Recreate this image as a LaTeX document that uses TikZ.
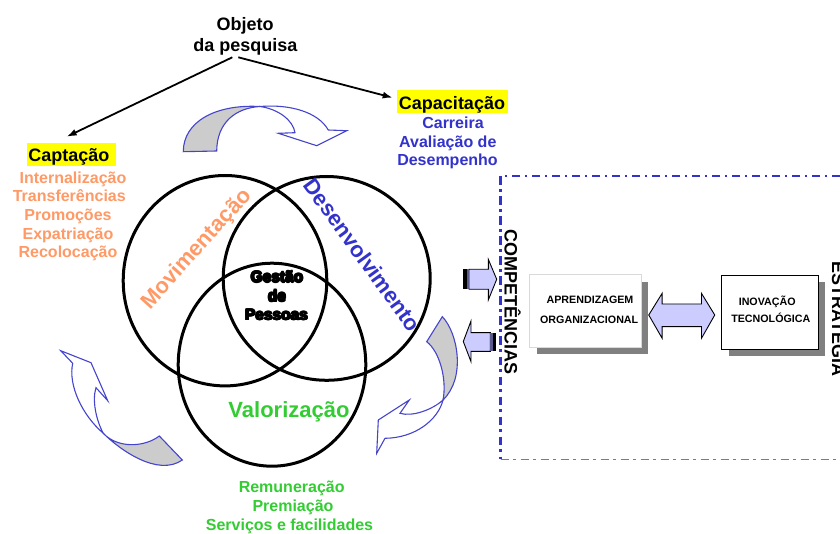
\documentclass[tikz,border=0pt]{standalone}
\usepackage{fontspec}
\setmainfont{Liberation Sans}
\usetikzlibrary{shapes.geometric,calc,arrows.meta}
\definecolor{orng}{RGB}{255,153,102}
\definecolor{blu}{RGB}{51,51,204}
\definecolor{arrblu}{RGB}{68,68,204}
\definecolor{grn}{RGB}{51,204,51}
\definecolor{yel}{RGB}{255,255,0}
\definecolor{lav}{RGB}{204,204,255}
\definecolor{gry}{RGB}{204,204,204}
\definecolor{shd}{RGB}{128,128,128}
\definecolor{stripe}{RGB}{90,90,140}
\newcommand\heavyword[1]{\leavevmode
  \rlap{\kern0.8pt #1}\rlap{\kern-0.8pt #1}%
  \rlap{\raisebox{0.8pt}{#1}}\rlap{\raisebox{-0.8pt}{#1}}%
  \rlap{\kern0.6pt\raisebox{0.6pt}{#1}}\rlap{\kern-0.6pt\raisebox{0.6pt}{#1}}%
  \rlap{\kern0.6pt\raisebox{-0.6pt}{#1}}\rlap{\kern-0.6pt\raisebox{-0.6pt}{#1}}#1}
\tikzset{
  txt/.style={inner sep=0pt, anchor=base, font=\bfseries\fontsize{16}{19}\selectfont},
  head/.style={inner sep=0pt, anchor=base, font=\bfseries\fontsize{18}{21}\selectfont},
  big/.style={inner sep=0pt, font=\bfseries\fontsize{22}{26}\selectfont},
  heavytxt/.style={inner sep=0pt, anchor=base, font=\bfseries\fontsize{15.5}{18}\selectfont},
  ring/.style={ellipse, draw=black, line width=3pt, inner sep=0pt},
  boxtxt/.style={inner sep=0pt, anchor=base, font=\bfseries\fontsize{10.7}{12}\selectfont},
  curvearr/.style={draw=arrblu, line width=1.1pt, line join=miter},
  blockarr/.style={draw=black, line width=0.9pt, fill=lav},
  yelbox/.style={fill=yel, inner sep=0pt},
  ptr/.style={line width=1.8pt, -{Latex[length=10pt,width=7pt]}}
}
\begin{document}
\begin{tikzpicture}[x=1pt,y=-1pt]
\useasboundingbox (0,0) rectangle (840,534);
\clip (0,0) rectangle (840,534);

% ---------- top texts ----------
\node[head] (obj1) at (245,30.7) {Objeto};
\node[head] (obj2) at (245.5,51.7) {da pesquisa};
\coordinate (srcL) at (232.3,57.3);
\coordinate (srcR) at (238.3,57.3);

\node[yelbox, minimum width=89pt, minimum height=23pt] (captbox) at (71.3,154.2) {};
\node[head] (capt) at (68.8,161.7) {Captação};
\node[yelbox, minimum width=111pt, minimum height=22.7pt] (capabox) at (452.2,101.4) {};
\node[head] (capa) at (452,109.3) {Capacitação};

\coordinate (tipL) at (66.7,136.7);
\coordinate (tipR) at (392.7,97.7);
\draw[ptr] (srcL) -- (tipL);
\draw[ptr] (srcR) -- (tipR);

% orange list
\node[txt, text=orng] (o1) at (73,183.3) {Internalização};
\node[txt, text=orng] (o2) at (69.3,201.9) {Transferências};
\node[txt, text=orng] (o3) at (68,220.5) {Promoções};
\node[txt, text=orng] (o4) at (68,239.1) {Expatriação};
\node[txt, text=orng] (o5) at (68,257.5) {Recolocação};

% blue list
\node[txt, text=blu] (b1) at (453,128.7) {Carreira};
\node[txt, text=blu] (b2) at (447.8,147.5) {Avaliação de};
\node[txt, text=blu] (b3) at (447.5,166) {Desempenho};

% green list
\node[txt, text=grn] (g1) at (291.7,492.7) {Remuneração};
\node[txt, text=grn] (g2) at (293,511.7) {Premiação};
\node[txt, text=grn] (g3) at (289.5,530.7) {Serviços e facilidades};

% ---------- circles ----------
\node[ring, minimum width=203.6pt, minimum height=210.4pt] (movc) at (225,280.7) {};
\node[ring, minimum width=207pt, minimum height=203.8pt] (desc) at (326.7,278.4) {};
\node[ring, minimum width=187.6pt, minimum height=203pt] (valc) at (272,364.7) {};

\node[big, text=orng, rotate=48] (mov) at (197,249.5) {Movimentação};
\node[big, text=blu, rotate=-54] (des) at (362.5,255) {Desenvolvimento};
\node[big, text=grn, anchor=base] (val) at (289,417.3) {Valorização};

\node[heavytxt] (ge1) at (277,282.3) {\heavyword{Gestão}};
\node[heavytxt] (ge2) at (277,301.5) {\heavyword{de}};
\node[heavytxt] (ge3) at (276.5,320) {\heavyword{Pessoas}};

% ---------- curved arrows ----------
% top
\coordinate (tA) at (183.3,151.7);
\coordinate (tB) at (216.7,151);
\coordinate (tC) at (260,106.5);
\coordinate (tD) at (328.3,130);
\coordinate (tE) at (346.7,130.7);
\coordinate (tF) at (316.7,145.7);
\coordinate (tG) at (278.3,133.3);
\coordinate (tH) at (295,132.7);
\path[curvearr, fill=gry] (tA) .. controls (183.3,122) and (215,104) .. (tC)
   .. controls (236,108) and (217,122) .. (tB) -- cycle;
\path[curvearr, fill=white] (tC) .. controls (290,104) and (318,112) .. (tD)
   -- (tE) -- (tF) -- (tG) -- (tH) .. controls (293,120) and (278,109) .. (tC) -- cycle;

% lower left
\coordinate (lT) at (60.7,350.7);
\coordinate (lW1) at (91,362.7);
\coordinate (lW2) at (107.7,400.7);
\coordinate (lN) at (96,387.7);
\coordinate (lL) at (72.7,363.3);
\coordinate (lP) at (103.3,433.3);
\coordinate (lQ) at (182.3,460);
\coordinate (lR) at (159.3,436);
\path[curvearr, fill=gry] (lP) .. controls (120,450) and (158,477) .. (lQ) -- (lR)
   .. controls (145,447) and (118,449) .. (lP) -- cycle;
\path[curvearr, fill=white] (lL) -- (lT) -- (lW1) -- (lW2) -- (lN)
   .. controls (92,400) and (96,420) .. (lP) .. controls (82,415) and (68,385) .. (lL) -- cycle;

% lower right
\coordinate (rR1) at (442.3,316.7);
\coordinate (rR2) at (426.7,341.7);
\coordinate (rM) at (443,400);
\coordinate (rN2) at (385,438.3);
\coordinate (rT) at (376.7,453.3);
\coordinate (rK) at (378.3,420);
\coordinate (rW) at (409.3,400);
\coordinate (rN1) at (400,413.3);
\path[curvearr, fill=gry] (rR1) -- (rR2) .. controls (440,352) and (447,380) .. (rM)
   .. controls (466,378) and (458,333) .. (rR1) -- cycle;
\path[curvearr, fill=white] (rM) .. controls (438,420) and (415,438) .. (rN2)
   -- (rT) -- (rK) -- (rW) -- (rN1) .. controls (412,417) and (432,410) .. (rM) -- cycle;

% ---------- block arrows near Competencias ----------
\path[blockarr] (469,269.3) -- (488.3,269.3) -- (488.3,259.3) -- (496.7,279.3)
   -- (488.3,300) -- (488.3,289.3) -- (469,289.3) -- cycle;
\fill[black] (463.3,269.3) rectangle (466.5,289.3);
\fill[stripe] (466.5,269.3) rectangle (469,289.3);
\path[blockarr] (490.3,332.7) -- (471,332.7) -- (471,321) -- (463.3,341.5)
   -- (471,361.7) -- (471,351.3) -- (490.3,351.3) -- cycle;
\fill[stripe] (490.3,332.7) rectangle (492.5,351.3);
\fill[black] (492.5,332.7) rectangle (495.5,351.3);

% ---------- dashed frame ----------
\coordinate (fTR) at (860,176);
\coordinate (fTL) at (500.5,176);
\coordinate (fBL) at (500.5,459.3);
\coordinate (fBR) at (860,459.3);
\draw[blu, line width=2.6pt, dash pattern=on 8.3pt off 4.5pt on 2.7pt off 4.5pt] (fTR) -- (fTL) -- (fBL);
\draw[blu!70, line width=1.3pt, dash pattern=on 8.3pt off 4.5pt on 2.7pt off 4.5pt] (fBL) -- (fBR);

\node[inner sep=0pt, anchor=base, rotate=-90, font=\bfseries\fontsize{18}{21}\selectfont] (comp) at (504.5,301.7) {COMPETÊNCIAS};
\node[inner sep=0pt, anchor=base, rotate=-90, font=\bfseries\fontsize{18}{21}\selectfont] (estr) at (832,319) {ESTRATÉGIA};

% ---------- boxes ----------
\fill[shd] (537.3,281.7) rectangle (647.7,354.3);
\node[draw=black!15, fill=white, line width=0.8pt, minimum width=111.7pt, minimum height=73pt, inner sep=0pt] (apr) at (585.2,310.8) {};
\node[boxtxt] (apr1) at (590,304) {APRENDIZAGEM};
\node[boxtxt] (apr2) at (589.2,323.3) {ORGANIZACIONAL};

\fill[shd] (728.7,282) rectangle (825,356.3);
\node[draw=black, fill=white, line width=0.8pt, minimum width=96.6pt, minimum height=74.3pt, inner sep=0pt] (ino) at (770,312.2) {};
\node[boxtxt] (ino1) at (767.2,306) {INOVAÇÃO};
\node[boxtxt] (ino2) at (770.8,322.7) {TECNOLÓGICA};

% double arrow between the boxes
\path[blockarr] ($(apr.east)+(7.3,4.2)$) -- ++(13.4,-21.7) -- ++(0,10.7) -- ++(39.3,0)
   -- ++(0,-10.7) -- ++(13.3,21.7) -- ++(-13.3,23.3) -- ++(0,-11.6) -- ++(-39.3,0)
   -- ++(0,11.6) -- cycle;
\end{tikzpicture}
\end{document}
